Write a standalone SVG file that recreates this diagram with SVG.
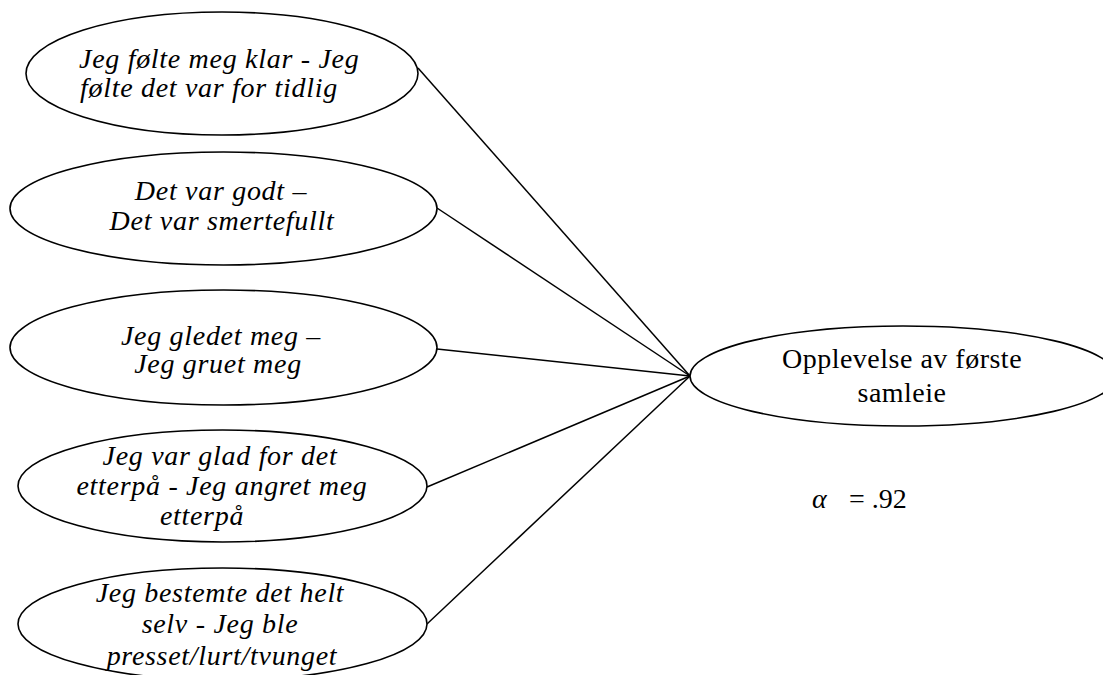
<svg xmlns="http://www.w3.org/2000/svg" width="1103" height="675" viewBox="0 0 1103 675">
<style>
.node ellipse { fill: #ffffff; stroke: #000000; stroke-width: 1.6; }
.conn line { stroke: #000000; stroke-width: 1.5; }
.it { font-family: "Liberation Serif", "Times New Roman", serif; font-style: italic; font-size: 28px; letter-spacing: 0.7px; fill: #000000; text-anchor: middle; }
.rm { font-family: "Liberation Serif", "Times New Roman", serif; font-size: 28px; letter-spacing: 0.5px; fill: #000000; text-anchor: middle; }
</style>
<rect width="1103" height="675" fill="#ffffff"/>
<g id="connectors" class="conn">
  <line x1="418" y1="68" x2="690" y2="376"/>
  <line x1="437" y1="208" x2="690" y2="376"/>
  <line x1="437" y1="349" x2="690" y2="376"/>
  <line x1="427" y1="487" x2="690" y2="376"/>
  <line x1="427" y1="624" x2="690" y2="376"/>
</g>
<g id="node1" class="node">
  <ellipse cx="222" cy="73.5" rx="196" ry="61.5"/>
  <text class="it" x="79" y="68" style="text-anchor:start">Jeg følte meg klar - Jeg</text>
  <text class="it" x="80" y="97" style="text-anchor:start">følte det var for tidlig</text>
</g>
<g id="node2" class="node">
  <ellipse cx="223.5" cy="208.5" rx="213.5" ry="56.5"/>
  <text class="it" x="221" y="200">Det var godt –</text>
  <text class="it" x="222" y="230">Det var smertefullt</text>
</g>
<g id="node3" class="node">
  <ellipse cx="223.5" cy="347.5" rx="213.5" ry="57.5"/>
  <text class="it" x="221" y="345">Jeg gledet meg –</text>
  <text class="it" x="218" y="373">Jeg gruet meg</text>
</g>
<g id="node4" class="node">
  <ellipse cx="222.5" cy="486" rx="204.5" ry="56"/>
  <text class="it" x="220" y="465">Jeg var glad for det</text>
  <text class="it" x="222" y="495">etterpå - Jeg angret meg</text>
  <text class="it" x="202" y="525">etterpå</text>
</g>
<g id="node5" class="node">
  <ellipse cx="222.5" cy="624" rx="204.5" ry="56"/>
  <text class="it" x="220" y="602">Jeg bestemte det helt</text>
  <text class="it" x="220" y="633">selv - Jeg ble</text>
  <text class="it" x="222" y="665">presset/lurt/tvunget</text>
</g>
<g id="node6" class="node">
  <ellipse cx="903" cy="376" rx="213" ry="50"/>
  <text class="rm" x="902" y="368">Opplevelse av første</text>
  <text class="rm" x="902" y="402">samleie</text>
</g>
<g id="alpha">
  <text x="812" y="508" style="font-family:'Liberation Serif','Times New Roman',serif;font-size:28px;fill:#000000"><tspan style="font-style:italic">α</tspan><tspan x="849">= .92</tspan></text>
</g>
</svg>
